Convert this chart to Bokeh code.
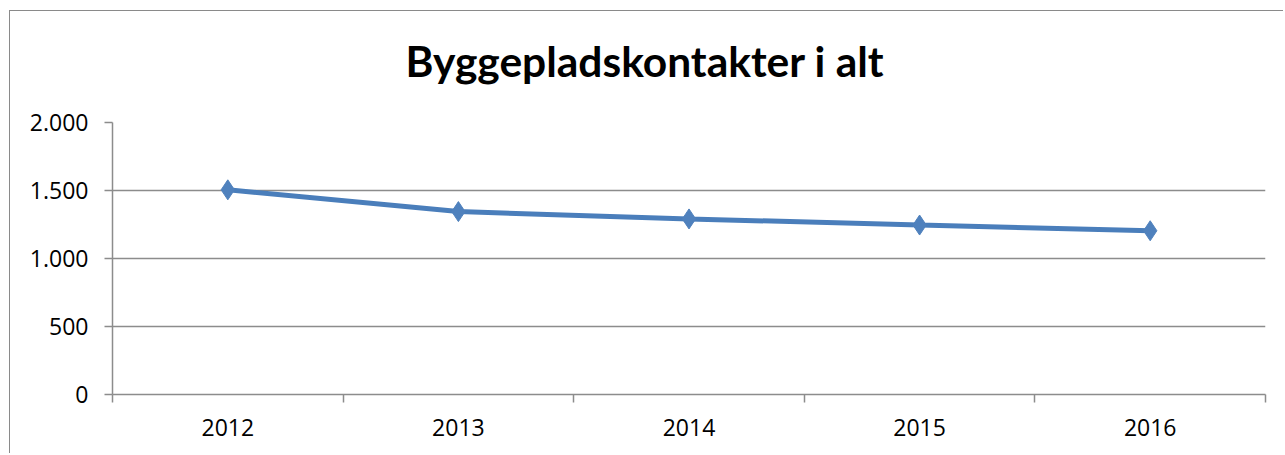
from bokeh.plotting import figure
from bokeh.models import FixedTicker, Range1d, Title
from bokeh.embed import file_html
from bokeh.resources import INLINE

years = ["2012", "2013", "2014", "2015", "2016"]
values = [1505, 1345, 1291, 1246, 1204]
y_ticks = [0, 500, 1000, 1500, 2000]
y_tick_labels = ["0", "500", "1.000", "1.500", "2.000"]
title_text = "Byggepladskontakter i alt"

xs = [i + 0.5 for i in range(len(years))]
bounds = list(range(len(years) + 1))

GRID = "#8c8c8c"
BLUE = "#4a7ebb"

p = figure(width=1274, height=443, output_backend="svg", toolbar_location=None,
           x_range=Range1d(0, len(years)), y_range=Range1d(0, 2000),
           min_border_left=102, min_border_right=19, min_border_top=111, min_border_bottom=60)
p.styles = {"border-top": "1px solid #8a8a8a", "border-left": "1px solid #8a8a8a",
            "margin-left": "9px", "margin-top": "10px"}
p.outline_line_color = None
p.background_fill_color = "white"
p.border_fill_color = "white"

p.title = Title(text=title_text, align="left", offset=293, standoff=40,
                text_font="Lato", text_font_size="42.5px", text_font_style="bold",
                text_color="black")
# empty spacer between the title and the plot area
p.add_layout(Title(text=" ", text_font_size="1px", standoff=14), "above")

# y axis
p.yaxis.ticker = FixedTicker(ticks=y_ticks)
p.yaxis.major_label_overrides = {t_: l for t_, l in zip(y_ticks, y_tick_labels)}
p.yaxis.axis_line_color = GRID
p.yaxis.axis_line_width = 1.5
p.yaxis.major_tick_line_color = GRID
p.yaxis.major_tick_line_width = 1.5
p.yaxis.major_tick_in = 0
p.yaxis.major_tick_out = 8
p.yaxis.minor_tick_line_color = None
p.yaxis.major_label_standoff = 16
p.yaxis.major_label_text_font = "Open Sans"
p.yaxis.major_label_text_font_size = "23px"
p.yaxis.major_label_text_color = "black"

# x axis: labels at centers, ticks at boundaries
p.xaxis.ticker = FixedTicker(ticks=xs, minor_ticks=bounds)
p.xaxis.major_label_overrides = {x: y for x, y in zip(xs, years)}
p.xaxis.axis_line_color = GRID
p.xaxis.axis_line_width = 1.5
p.xaxis.major_tick_line_color = None
p.xaxis.minor_tick_line_color = GRID
p.xaxis.minor_tick_line_width = 1.5
p.xaxis.minor_tick_in = 0
p.xaxis.minor_tick_out = 8
p.xaxis.major_label_standoff = 16
p.xaxis.major_label_text_font = "Open Sans"
p.xaxis.major_label_text_font_size = "23px"
p.xaxis.major_label_text_color = "black"

p.xgrid.grid_line_color = None
p.ygrid.ticker = FixedTicker(ticks=y_ticks)
p.ygrid.grid_line_color = GRID
p.ygrid.grid_line_width = 1.5

p.line(xs, values, line_color=BLUE, line_width=5)
p.scatter(xs, values, marker="diamond", size=20, fill_color="#4f81bd", line_color="#4f81bd")

open("out.html", "w").write(file_html(p, INLINE))
